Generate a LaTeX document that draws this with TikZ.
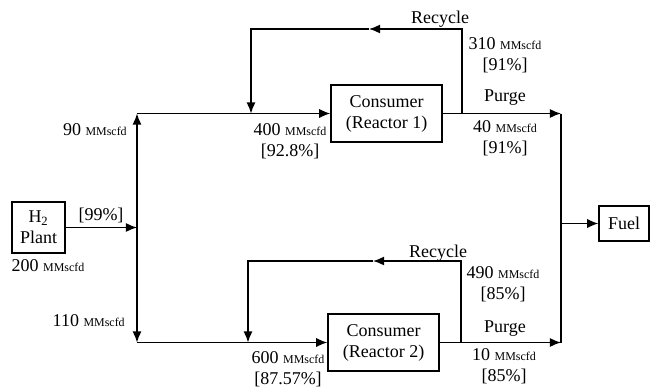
\documentclass[tikz,border=0pt]{standalone}
\usepackage{fontspec}
\setmainfont{Liberation Serif}
\usetikzlibrary{positioning, arrows.meta}
\newcommand{\mmscfd}{{\fontsize{8.5}{10}\selectfont MMscfd}}

\begin{document}
\begin{tikzpicture}[
  x=0.025cm, y=-0.025cm,
  box/.style={rectangle, draw, line width=0.8pt, align=center, inner sep=0pt, font=\fontsize{12.8}{14.9}\selectfont},
  lbl/.style={align=center, inner sep=0pt, font=\fontsize{12.8}{14.9}\selectfont},
  flow/.style={line width=1.1pt},
  >={Latex[length=2.8mm,width=2.3mm]}
]
\useasboundingbox (0,0) rectangle (650,388);

\node[box, minimum width=1.325cm, minimum height=1.275cm] (plant) at (38.5,227.5) {H\textsubscript{2}\\Plant};
\node[box, minimum width=2.775cm, minimum height=1.425cm] (r1) at (386.5,113.5) {Consumer\\(Reactor 1)};
\node[box, minimum width=2.775cm, minimum height=1.425cm] (r2) at (383.5,342.5) {Consumer\\(Reactor 2)};
\node[box, minimum width=1.25cm, minimum height=0.875cm] (fuel) at (624,223.5) {Fuel};

\coordinate (split) at (137,227.5);
\coordinate (up1) at (137,113.5);
\coordinate (dn2) at (137,342.5);
\coordinate (tap1) at (462,113.5);
\coordinate (top1) at (462,29);
\coordinate (mid1) at (369,29);
\coordinate (corner1) at (251,29);
\coordinate (drop1) at (251,113.5);
\coordinate (tap2) at (461,342.5);
\coordinate (top2) at (461,261);
\coordinate (mid2) at (373,261);
\coordinate (corner2) at (248,261);
\coordinate (drop2) at (248,342.5);
\coordinate (join1) at (561,113.5);
\coordinate (join2) at (561,342.5);
\coordinate (tofuel) at (561,223.5);

% feed split
\draw[flow,->] (plant) -- (split);
\draw[flow,->] (split) -- (up1);
\draw[flow,->] (split) -- (dn2);
\draw[flow,->] (up1) -- (r1);
\draw[flow,->] (dn2) -- (r2);

% recycle loops
\draw[flow,->] (tap1) -- (top1) -- (mid1);
\draw[flow,->] (mid1) -- (corner1) -- (drop1);
\draw[flow,->] (tap2) -- (top2) -- (mid2);
\draw[flow,->] (mid2) -- (corner2) -- (drop2);

% purge to fuel
\draw[flow,->] (r1) -- (join1);
\draw[flow,->] (r2) -- (join2);
\draw[flow] (join1) -- (join2);
\draw[flow,->] (tofuel) -- (fuel);

% stream labels
\node[lbl] (p99) at (101,215) {[99\%]};
\node[lbl] (f200) at (48,266) {200 \mmscfd};
\node[lbl, anchor=east] (f90) at (127,130) {90 \mmscfd};
\node[lbl, anchor=east] (f110) at (125,321) {110 \mmscfd};
\node[lbl] (f400) at (290,141) {400 \mmscfd\\{[92.8\%]}};
\node[lbl] (f600) at (288,369) {600 \mmscfd\\{[87.57\%]}};
\node[lbl] (rec1) at (440,19) {Recycle};
\node[lbl] (f310) at (505,55) {310 \mmscfd\\{[91\%]}};
\node[lbl] (pur1) at (505,98) {Purge};
\node[lbl] (f40) at (505,138) {40 \mmscfd\\{[91\%]}};
\node[lbl] (rec2) at (438,253) {Recycle};
\node[lbl] (f490) at (503,284) {490 \mmscfd\\{[85\%]}};
\node[lbl] (pur2) at (505,329) {Purge};
\node[lbl] (f10) at (504,366) {10 \mmscfd\\{[85\%]}};
\end{tikzpicture}
\end{document}
